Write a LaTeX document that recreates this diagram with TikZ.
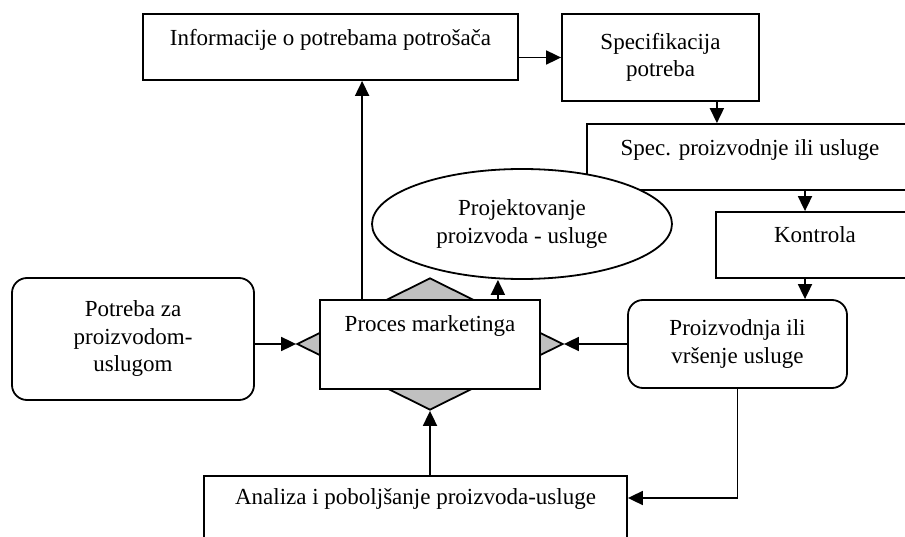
\documentclass[tikz,border=0pt]{standalone}
\usepackage{fontspec}
\setmainfont{Liberation Serif}
\usetikzlibrary{arrows.meta,shapes.geometric}
\definecolor{diamondgray}{RGB}{192,192,192}

\begin{document}
\begin{tikzpicture}[
    x=1pt, y=-1pt,
    every node/.style={font=\fontsize{23}{27.5}\selectfont},
    box/.style={draw, fill=white, rectangle, line width=1.8pt, inner ysep=0pt},
    roundbox/.style={draw, fill=white, rectangle, rounded corners=15pt, line width=1.8pt, align=center},
    arr/.style={line width=1.8pt, -{Triangle[length=15pt,width=14pt]}}
]
\clip (0,0) rectangle (905,537);

\node[box, text height=32pt, text depth=34pt, minimum width=375pt, anchor=base] (info) at (330.5,46) {Informacije o potrebama potrošača};
\node[box, inner ysep=3pt, align=center, minimum width=197pt, minimum height=87pt] (specpot) at (660.5,57.5) {Specifikacija\\potreba};
\node[box, text height=32pt, text depth=34pt, minimum width=326pt, anchor=base] (specpro) at (750,156) {Spec. proizvodnje ili usluge};
\node[draw, fill=white, ellipse, line width=1.8pt, inner sep=0pt, align=center, minimum width=300pt, minimum height=110pt] (projekt) at (522,224) {Projektovanje\\proizvoda - usluge};
\node[box, text height=31pt, text depth=35pt, minimum width=198pt, anchor=base] (kontrola) at (815,243) {Kontrola};
\node[roundbox, minimum width=242pt, minimum height=122pt] (potreba) at (133,339) {Potreba za\\proizvodom-\\uslugom};
\node[draw, diamond, fill=diamondgray, line width=1.8pt, inner sep=0pt, minimum width=266pt, minimum height=132pt] (dmd) at (430,344) {};
\node[box, text height=32pt, text depth=57pt, minimum width=220pt, anchor=base] (marketing) at (430,332) {Proces marketinga};
\node[roundbox, minimum width=219pt, minimum height=88pt] (proizv) at (737.5,344) {Proizvodnja ili\\vršenje usluge};
\node[box, text height=28pt, text depth=60pt, minimum width=423pt, anchor=base] (analiza) at (415.5,504) {Analiza i poboljšanje proizvoda-usluge};
\coordinate (bend) at (737.5,498);

% veze
\draw[arr] ([xshift=43pt]marketing.north west) -- ([xshift=43pt]marketing.north west |- info.south);
\draw[arr] (info.east |- specpot.west) -- (specpot.west);
\draw[arr] ([xshift=-43pt]specpot.south east) -- ([xshift=-43pt]specpot.south east |- specpro.north);
\draw[arr] ([xshift=-10pt]kontrola.north |- specpro.south) -- ([xshift=-10pt]kontrola.north);
\draw[arr] ([xshift=-10pt]kontrola.south) -- ([xshift=-10pt]kontrola.south |- proizv.north);
\draw[arr] (proizv.west) -- (dmd.east);
\draw[arr] (proizv.south) -- (bend) -- (bend -| analiza.east);
\draw[arr] (analiza.north -| dmd.south) -- (dmd.south);
\draw[arr] (potreba.east |- dmd.west) -- (dmd.west);
\draw[arr] ([xshift=-43pt]marketing.north east) -- ([xshift=-43pt]marketing.north east |- projekt.south);
\end{tikzpicture}
\end{document}
